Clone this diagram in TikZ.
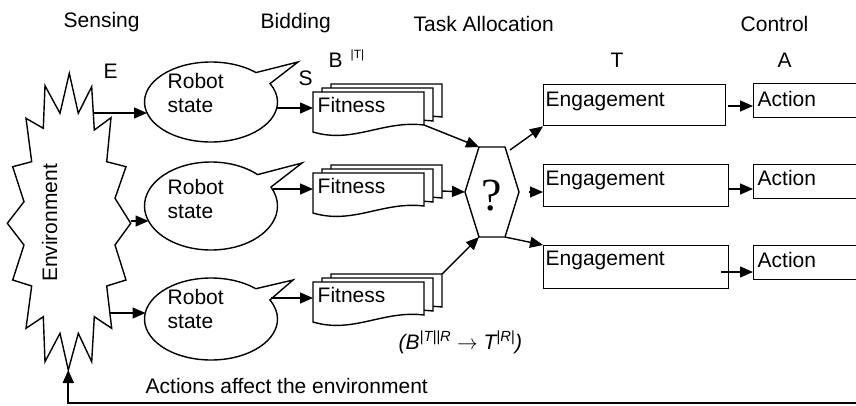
\documentclass[tikz,border=0pt]{standalone}
\usepackage{fontspec}
\setmainfont{Liberation Sans}
\newfontfamily\qfont{Liberation Serif}
\usetikzlibrary{arrows.meta,shapes.callouts,calc}
\newcommand\fitdoc[2]{%
  \draw[fill=white] (#1,#2) -- (#1+111,#2) -- (#1+111,#2+33)
    .. controls (#1+70,#2+28) and (#1+40,#2+52) .. (#1,#2+40) -- cycle;}
\tikzset{
  arr/.style={-{Triangle[length=13pt,width=11pt]}},
  lbl/.style={font=\fontsize{21}{24}\selectfont, inner sep=0pt, anchor=base west},
  twoline/.style={font=\fontsize{21}{24}\selectfont, inner sep=0pt, anchor=north west, align=left},
  bubble/.style={ellipse callout, draw, fill=white, minimum width=133pt, inner sep=0pt, callout pointer arc=20},
  boxn/.style={draw, fill=white, anchor=north west, inner sep=0pt},
  fitstack/.pic={
    \fitdoc{18}{-8}
    \fitdoc{9}{-4}
    \fitdoc{0}{0}
    \node[lbl] (-t) at (4,20) {Fitness};
    \coordinate (-fbr) at (111,33);
    \coordinate (-bright) at (129,18);
    \coordinate (-btr) at (129,-8);
    \coordinate (-fw) at (0,16);
  }
}
\begin{document}
\begin{tikzpicture}[x=1pt,y=-1pt,line width=1.4pt,line join=miter]
\useasboundingbox[fill=white] (0,0) rectangle (856,405);

% headings
\node[lbl] (hsens) at (63,27) {Sensing};
\node[lbl] (hbid) at (260,28) {Bidding};
\node[lbl] (htask) at (413,31) {Task Allocation};
\node[lbl] (hctl) at (740,31) {Control};
\node[lbl] (lE) at (103,78) {E};
\node[lbl] (lS) at (298,85) {S};
\node[lbl] (lB) at (328,67) {B};
\node[inner sep=0pt, anchor=base west, font=\fontsize{12}{14}\selectfont] (lBsup) at (350,58) {|T|};
\node[lbl] (lT) at (610,67) {T};
\node[lbl] (lA) at (777,67) {A};

% environment
\coordinate (envt) at (69.3,73.3);
\coordinate (e1) at (93.5,113);
\coordinate (e2) at (130.7,221);
\coordinate (e3) at (109.8,313);
\coordinate (envb) at (68.3,370);
\draw[fill=white] (envt) -- (78.3,113.3) -- (91.7,86.7) -- (94.3,130) -- (111,117.7)
  -- (106.7,161.7) -- (126,166.7) -- (115,198.3) -- (130.7,223.3) -- (115,245)
  -- (126,280) -- (106.7,286) -- (111.7,328.3) -- (94.3,316.7) -- (91.7,361.7)
  -- (78.3,333.3) -- (envb) -- (60,333.3) -- (45,361.7) -- (43.3,316.7)
  -- (26,328.3) -- (31.7,286) -- (12.7,280) -- (24,245) -- (7.3,223.3)
  -- (24,201.7) -- (12.7,166.7) -- (31.7,161.7) -- (26,118.3) -- (43.3,128.3)
  -- (45,85.7) -- (60,113.3) -- cycle;
\node[lbl, anchor=base, rotate=90] (envtext) at (57,223) {Environment};

% robot state bubbles
\node[bubble, minimum height=80pt, callout absolute pointer={(298,62)}] (r1) at (211,102) {};
\node[bubble, minimum height=88pt, callout absolute pointer={(302,163)}] (r2) at (211,206) {};
\node[bubble, minimum height=82pt, callout absolute pointer={(293,280)}] (r3) at (211,319) {};
\node[twoline] (r1t) at (167,72.5) {Robot\\state};
\node[twoline] (r2t) at (167,178.5) {Robot\\state};
\node[twoline] (r3t) at (167,288.5) {Robot\\state};

\draw[arr] (e1) -- (147,113);
\draw[arr] (e2) -- (148.5,221);
\draw[arr] (e3) -- (145.5,313);

% fitness stacks
\pic (s1) at (313,92) {fitstack};
\pic (s2) at (313,173) {fitstack};
\pic (s3) at (313,282) {fitstack};

\draw[arr] ($(r1.center)+(66,6)$) -- (s1-fw);
\draw[arr] ($(r2.center)+(62,-17)$) -- (s2-fw);
\draw[arr] ($(r3.center)+(60,-21)$) -- (s3-fw);

% hexagon
\coordinate (hl) at (465,192);
\coordinate (htl) at (479,147);
\coordinate (htr) at (505,147);
\coordinate (hr) at (519,192);
\coordinate (hbr) at (505,237);
\coordinate (hbl) at (479,237);
\coordinate (hout) at (510,150);
\draw[fill=white] (htl) -- (htr) -- (hr) -- (hbr) -- (hbl) -- (hl) -- cycle;
\node[font=\qfont\fontsize{46}{50}\selectfont, inner sep=0pt] (q) at (492,195.5) {?};

\draw[arr] (s1-fbr) -- (htl);
\draw[arr] (s2-bright) -- (hl);
\draw[arr] (s3-btr) -- (hbl);

% engagement boxes
\node[boxn, minimum width=182pt, minimum height=41pt] (eng1) at (543,84) {};
\node[boxn, minimum width=185pt, minimum height=42pt] (eng2) at (543,164) {};
\node[boxn, minimum width=185pt, minimum height=43pt] (eng3) at (543,245) {};
\node[lbl] (eng1t) at (545,106) {Engagement};
\node[lbl] (eng2t) at (545,185) {Engagement};
\node[lbl] (eng3t) at (545,265) {Engagement};

\draw[arr] (hout) -- (eng1.south west);
\draw[arr, shorten <=10pt] (hr) -- (hr -| eng2.west);
\draw[arr] (hbr) -- (eng3.north west);

% action boxes
\node[boxn, minimum width=130pt, minimum height=34pt] (act1) at (753,83) {};
\node[boxn, minimum width=130pt, minimum height=34pt] (act2) at (753,164) {};
\node[boxn, minimum width=130pt, minimum height=34pt] (act3) at (753,245) {};
\node[lbl] (act1t) at (757,106) {Action};
\node[lbl] (act2t) at (757,185) {Action};
\node[lbl] (act3t) at (757,267) {Action};

\draw[arr] ($(eng1.north east)+(2,22)$) -- ($(act1.north west)+(0,23)$);
\draw[arr] ($(eng2.north east)+(0,25)$) -- ($(act2.north west)+(0,25)$);
\draw[arr] ($(eng3.north east)+(-8,27)$) -- ($(act3.north west)+(0,27)$);

% formula
\node[lbl, font=\fontsize{21}{24}\selectfont\itshape] (formula) at (398,349)
  {(B\textsuperscript{|T||R} $\rightarrow$ T\textsuperscript{|R|})};

% feedback
\node[lbl] (fbl) at (145,393) {Actions affect the environment};
\coordinate (fbR) at (860,403);
\draw[arr, line width=1.8pt] (fbR) -- (fbR -| envb) -- (envb);
\end{tikzpicture}
\end{document}
